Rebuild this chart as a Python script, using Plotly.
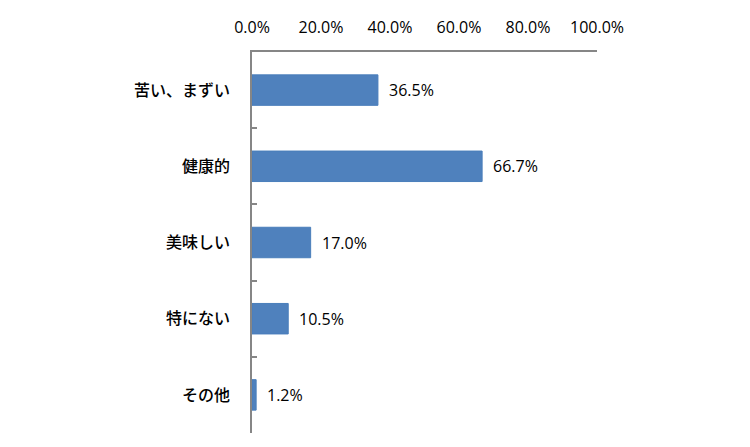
import plotly.graph_objects as go

categories = ["苦い、まずい", "健康的", "美味しい", "特にない", "その他"]
values = [36.5, 66.7, 17.0, 10.5, 1.2]
tick_vals = [0, 20, 40, 60, 80, 100]
tick_text = ["0.0%", "20.0%", "40.0%", "60.0%", "80.0%", "100.0%"]

LATIN = "Open Sans, Liberation Sans, sans-serif"

fig = go.Figure()
fig.add_trace(go.Bar(
    x=values,
    y=categories,
    orientation="h",
    marker=dict(color="#4F81BD", line=dict(color="#4A7EBB", width=1)),
    width=0.4,
    hoverinfo="skip",
))

# value labels beside each bar
for c, v in zip(categories, values):
    fig.add_annotation(
        x=v, y=c, text=f"{v:.1f}%", showarrow=False,
        xanchor="left", xshift=9,
        font=dict(family=LATIN, size=16, color="#000000"),
    )

fig.update_layout(
    width=750, height=447,
    margin=dict(l=252, r=153, t=52, b=14),
    paper_bgcolor="white", plot_bgcolor="white",
    showlegend=False,
    xaxis=dict(
        side="top", range=[0, 100], tickvals=tick_vals, ticktext=tick_text,
        showgrid=False, zeroline=False, showline=True, linecolor="#868686", linewidth=1.5,
        ticks="", ticklabelstandoff=11,
        tickfont=dict(family=LATIN, size=16, color="#000000"),
    ),
    yaxis=dict(
        categoryorder="array", categoryarray=categories, autorange="reversed",
        showgrid=False, zeroline=False, showline=True, linecolor="#868686", linewidth=1.5,
        ticks="inside", ticklen=5, tickcolor="#868686", tickwidth=1.5, tickson="boundaries",
        ticklabelstandoff=17,
        tickfont=dict(family="Noto Sans CJK JP, sans-serif", size=16, color="#000000", weight=500),
    ),
)

fig.write_html("out.html")
